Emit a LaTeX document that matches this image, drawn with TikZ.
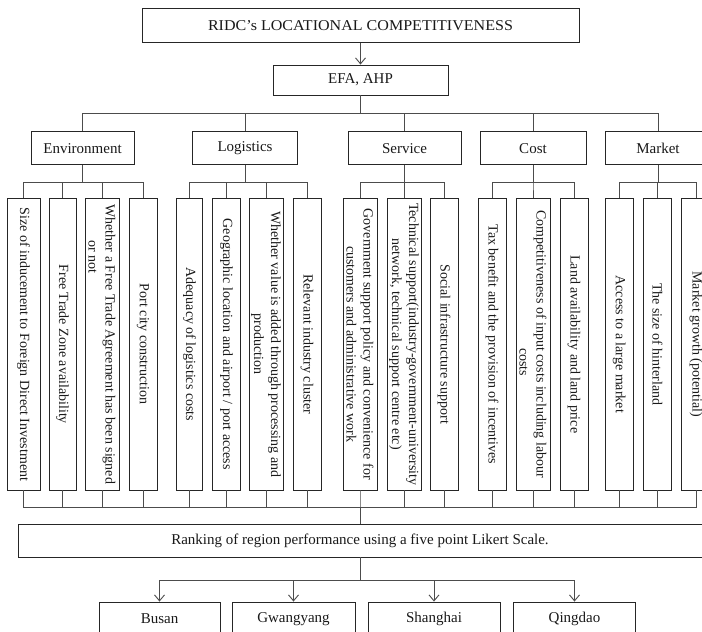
\documentclass[tikz,border=0pt]{standalone}
\usepackage{fontspec}
\setmainfont{Liberation Serif}
\newfontfamily\titlefont[FakeStretch=1.07]{Liberation Serif}
\usetikzlibrary{arrows.meta}
\begin{document}
\begin{tikzpicture}[x=1pt,y=-1pt,
  box/.style={draw=black!85, line width=0.9pt, inner sep=0pt, font=\fontsize{15}{18}\selectfont, text=black!90},
  vbox/.style={draw=black!85, line width=0.9pt, rotate=-90, minimum width=291.5pt, inner sep=0pt, align=center, font=\fontsize{14}{17}\selectfont, text=black!90},
  conn/.style={draw=black!70, line width=0.9pt},
  arr/.style={conn, -{Straight Barb[length=6pt,width=10pt]}}]
\useasboundingbox (0,0) rectangle (702,632);
\clip (0,0) rectangle (702,632);
% top
\node[box, minimum width=437pt, minimum height=34pt, font=\titlefont\fontsize{15}{18}\selectfont] (top) at (360.5,25.3) {RIDC’s LOCATIONAL COMPETITIVENESS};
\node[box, minimum width=175pt, minimum height=30pt] (efa) at (360.5,80) {EFA, AHP};
\draw[arr] (top) -- (efa);
% categories
\node[box, minimum width=103pt, minimum height=33pt] (env) at (82.5,148.3) {Environment};
\node[box, minimum width=105pt, minimum height=33pt] (log) at (245,148.3) {Logistics};
\node[box, minimum width=113pt, minimum height=33pt] (ser) at (404.5,148.3) {Service};
\node[box, minimum width=106pt, minimum height=33pt] (cost) at (533,148.3) {Cost};
\node[box, minimum width=106pt, minimum height=33pt] (mkt) at (658,148.3) {Market};
\foreach \c in {env,log,ser,cost,mkt}
  \draw[conn] (efa.south) -- ++(0,18) -| (\c.north);
% environment
\node[vbox, minimum height=33pt] (e1) at (23.5,344.25) {Size of inducement to Foreign Direct Investment};
\node[vbox, minimum height=27pt] (e2) at (62.5,344.25) {Free Trade Zone availability};
\node[vbox, minimum height=34pt] (e3) at (102,344.25) {Whether a Free Trade Agreement has been signed\\or not\hspace*{174pt}};
\node[vbox, minimum height=28pt] (e4) at (143,344.25) {Port city construction};
% logistics
\node[vbox, minimum height=26pt] (l1) at (189.5,344.25) {Adequacy of logistics costs};
\node[vbox, minimum height=28pt] (l2) at (226.5,344.25) {Geographic location and airport / port access};
\node[vbox, minimum height=34pt] (l3) at (266,344.25) {Whether value is added through processing and\\production};
\node[vbox, minimum height=28pt] (l4) at (307,344.25) {Relevant industry cluster};
% service
\node[vbox, minimum height=34pt] (s1) at (360,344.25) {Government support policy and convenience for\\customers and administrative work};
\node[vbox, minimum height=34pt] (s2) at (404,344.25) {Technical support(industry-government-university\\network, technical support centre etc)};
\node[vbox, minimum height=28pt] (s3) at (444,344.25) {Social infrastructure support};
% cost
\node[vbox, minimum height=28pt] (c1) at (492,344.25) {Tax benefit and the provision of incentives};
\node[vbox, minimum height=34pt] (c2) at (533,344.25) {Competitiveness of input costs including labour\\\hspace*{36pt}costs};
\node[vbox, minimum height=28pt] (c3) at (574,344.25) {Land availability and land price};
% market
\node[vbox, minimum height=28pt] (m1) at (619.3,344.25) {Access to a large market};
\node[vbox, minimum height=28pt] (m2) at (657.5,344.25) {The size of hinterland};
\node[vbox, minimum height=30pt] (m3) at (696,344.25) {Market growth (potential)};
% category to children
\foreach \k in {e1,e2,e3,e4} \draw[conn] (env.south) -- ++(0,17.5) -| (\k.west);
\foreach \k in {l1,l2,l3,l4} \draw[conn] (log.south) -- ++(0,17.5) -| (\k.west);
\foreach \k in {s1,s2,s3} \draw[conn] (ser.south) -- ++(0,17.5) -| (\k.west);
\foreach \k in {c1,c2,c3} \draw[conn] (cost.south) -- ++(0,17.5) -| (\k.west);
\foreach \k in {m1,m2,m3} \draw[conn] (mkt.south) -- ++(0,17.5) -| (\k.west);
% ranking
\node[box, minimum width=684pt, minimum height=33pt] (rank) at (360,540.5) {Ranking of region performance using a five point Likert Scale.};
\foreach \k in {e1,e2,e3,e4,l1,l2,l3,l4,s1,s2,s3,c1,c2,c3,m1,m2,m3}
  \draw[conn] (\k.east) -- ++(0,17) -| (rank.north);
% cities
\node[box, minimum width=121pt, minimum height=34pt] (busan) at (159.5,619) {Busan};
\node[box, minimum width=123pt, minimum height=34pt] (gwang) at (293.5,619) {Gwangyang};
\node[box, minimum width=132pt, minimum height=34pt] (shang) at (434,619) {Shanghai};
\node[box, minimum width=122pt, minimum height=34pt] (qing) at (574.5,619) {Qingdao};
\foreach \k in {busan,gwang,shang,qing}
  \draw[arr] (rank.south) -- ++(0,23) -| (\k.north);
\end{tikzpicture}
\end{document}
